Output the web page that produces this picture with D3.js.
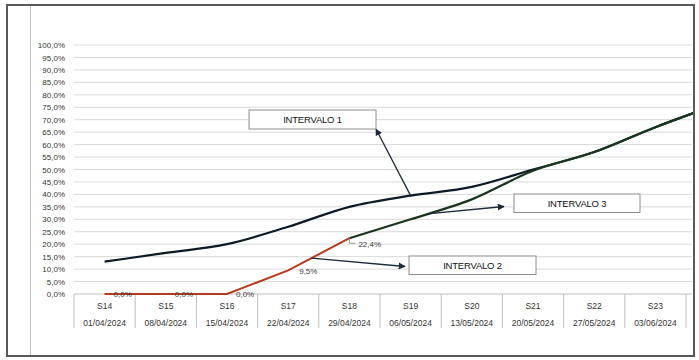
<!DOCTYPE html>
<html><head><meta charset="utf-8">
<script src="https://cdn.jsdelivr.net/npm/d3@7"></script>
<style>
html,body{margin:0;padding:0;background:#fff;}
svg{display:block;font-family:"Liberation Sans",Arial,sans-serif;}
</style></head>
<body>
<svg id="c" width="699" height="360"></svg>
<script>
// ---- data ----
const weeks = ["S14","S15","S16","S17","S18","S19","S20","S21","S22","S23","S24"];
const dates = ["01/04/2024","08/04/2024","15/04/2024","22/04/2024","29/04/2024","06/05/2024","13/05/2024","20/05/2024","27/05/2024","03/06/2024","10/06/2024"];
const planned = [13,16.5,20,27,35,39.5,43,50,57,67,76];
const actualWeeks = ["S14","S15","S16","S17","S18"];
const actual = [0,0,0,9.5,22.4];
const forecastWeeks = ["S18","S19","S20","S21","S22","S23","S24"];
const forecast = [22.4,30,38,49.5,57,67,76];
const yTicks = d3.range(0,101,5);
const labelWeeks = ["S14","S15","S16","S17","S18"];
const labelValues = [0,0,0,9.5,22.4];

// ---- layout ----
const svg = d3.select("#c");
const left = 74, step = 61.2, plotRight = 692;
const x = d3.scaleBand().domain(weeks).range([left, left + step*weeks.length]).padding(0);
const cx = d => x(d) + x.bandwidth()/2;
const y = d3.scaleLinear().domain([0,100]).range([294,45]);
const fmt = v => d3.format(".1f")(v).replace(".", ",") + "%";
const visibleWeeks = weeks.filter(w => x(w) + x.bandwidth() <= plotRight + 2);
const visibleDates = visibleWeeks.map(w => dates[weeks.indexOf(w)]);

const defs = svg.append("defs");
defs.append("clipPath").attr("id","clip")
  .append("rect").attr("x",8).attr("y",6).attr("width",685).attr("height",349);
const g = svg.append("g").attr("clip-path","url(#clip)");

// gridlines
g.append("g").selectAll("line").data(yTicks.filter(t=>t>0)).join("line")
  .attr("x1",left).attr("x2",plotRight).attr("y1",d=>y(d)).attr("y2",d=>y(d))
  .attr("stroke","#d9d9d9").attr("stroke-width",1);

// y axis labels
const yAxis = d3.axisLeft(y).tickValues(yTicks).tickFormat(fmt).tickSize(0).tickPadding(9);
const ya = svg.append("g").attr("transform",`translate(${left},0)`).call(yAxis);
ya.select(".domain").remove();
ya.selectAll("text").attr("font-size",8).attr("fill","#333").attr("font-family","Liberation Sans, Arial, sans-serif");

// x axis baseline and separators
g.append("line").attr("x1",left).attr("x2",plotRight).attr("y1",y(0)).attr("y2",y(0)).attr("stroke","#bfbfbf");
g.append("g").selectAll("line").data(visibleWeeks.concat(["end"])).join("line")
  .attr("x1",d=>d==="end"?x(visibleWeeks[visibleWeeks.length-1])+x.bandwidth():x(d))
  .attr("x2",d=>d==="end"?x(visibleWeeks[visibleWeeks.length-1])+x.bandwidth():x(d))
  .attr("y1",y(0)).attr("y2",328)
  .attr("stroke","#bfbfbf");
svg.append("g").selectAll("text").data(visibleWeeks).join("text")
  .attr("x",d=>cx(d)).attr("y",309).attr("text-anchor","middle")
  .attr("font-size",8.5).attr("fill","#333").text(d=>d);
svg.append("g").selectAll("text").data(visibleDates).join("text")
  .attr("x",(d,i)=>cx(visibleWeeks[i])).attr("y",325.5).attr("text-anchor","middle")
  .attr("font-size",8.5).attr("fill","#333").text(d=>d);

// lines
const smooth = d3.line().x(d=>cx(d[0])).y(d=>y(d[1])).curve(d3.curveMonotoneX);
const straight = d3.line().x(d=>cx(d[0])).y(d=>y(d[1]));
g.append("path").datum(weeks.map((w,i)=>[w,planned[i]]))
  .attr("d",smooth).attr("fill","none").attr("stroke","#0b1a26").attr("stroke-width",2.2);
g.append("path").datum(forecastWeeks.map((w,i)=>[w,forecast[i]]))
  .attr("d",smooth).attr("fill","none").attr("stroke","#17361c").attr("stroke-width",2.2);
g.append("path").datum(actualWeeks.map((w,i)=>[w,actual[i]]))
  .attr("d",straight).attr("fill","none").attr("stroke","#b8391c").attr("stroke-width",2);

// data labels
labelWeeks.forEach((w,i)=>{
  const v = labelValues[i];
  let tx = cx(w)+9, ty = y(v)+3;
  if (i===3) { tx = cx(w)+11; ty = y(v)+4; }
  if (i===4) {
    tx = cx(w)+9; ty = y(v)+9;
    g.append("path").attr("d",`M${cx(w)},${y(v)+1}V${y(v)+5}H${cx(w)+6}`)
      .attr("fill","none").attr("stroke","#808080").attr("stroke-width",0.8);
  }
  g.append("text").attr("x",tx).attr("y",ty).attr("font-size",8).attr("fill","#404040").text(fmt(v));
});

// callouts
defs.append("marker").attr("id","ah").attr("viewBox","0 0 10 10").attr("refX",9).attr("refY",5)
  .attr("markerWidth",7).attr("markerHeight",7).attr("markerUnits","userSpaceOnUse").attr("orient","auto")
  .append("path").attr("d","M0,0L10,5L0,10z").attr("fill","#1a2a3a");

function interp(arrW, arrV, w0, w1, f){
  const v0 = arrV[arrW.indexOf(w0)], v1 = arrV[arrW.indexOf(w1)];
  return [cx(w0) + (cx(w1)-cx(w0))*f, y(v0 + (v1-v0)*f)];
}
const callouts = [
  {text:"INTERVALO 1", box:[249,110,127,19], from:[cx("S19"), y(planned[5])], to:[376,129]},
  {text:"INTERVALO 2", box:[409,256,127,18.5], from:interp(actualWeeks,actual,"S17","S18",0.38), to:[405,266.5]},
  {text:"INTERVALO 3", box:[514,194,126,18.5], from:interp(forecastWeeks,forecast,"S19","S20",0.27), to:[504,206.5]}
];
callouts.forEach(c=>{
  const [bx,by,bw,bh]=c.box;
  svg.append("line").attr("x1",c.from[0]).attr("y1",c.from[1]).attr("x2",c.to[0]).attr("y2",c.to[1])
    .attr("stroke","#1a2a3a").attr("stroke-width",1.3).attr("marker-end","url(#ah)");
  svg.append("rect").attr("x",bx).attr("y",by).attr("width",bw).attr("height",bh)
    .attr("fill","#fff").attr("stroke","#8c8c8c").attr("stroke-width",1);
  svg.append("text").attr("x",bx+bw/2).attr("y",by+bh/2+3.4).attr("text-anchor","middle")
    .attr("font-size",9.5).attr("letter-spacing",-0.2).attr("fill","#111").text(c.text);
});

// frame
svg.append("line").attr("x1",30.5).attr("x2",30.5).attr("y1",6).attr("y2",355).attr("stroke","#bfbfbf");
svg.append("rect").attr("x",7).attr("y",5).attr("width",687).attr("height",351)
  .attr("fill","none").attr("stroke","#595959").attr("stroke-width",2);
</script>
</body></html>
